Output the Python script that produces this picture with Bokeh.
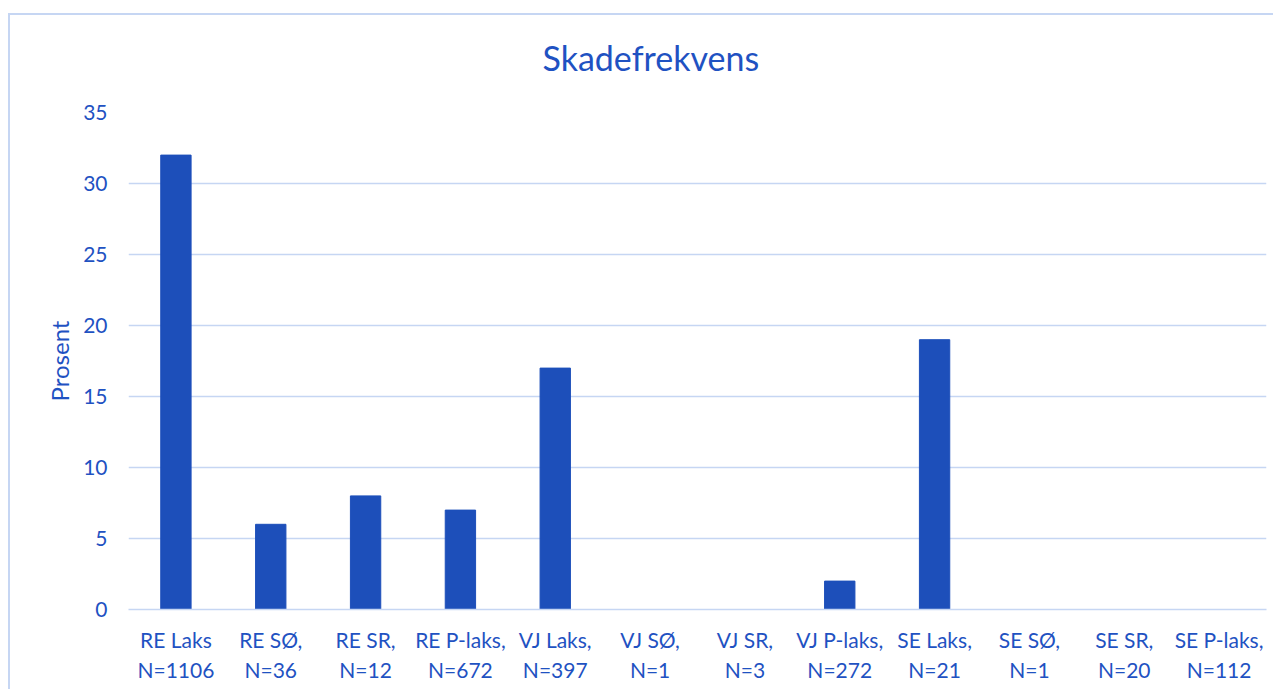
from bokeh.plotting import figure
from bokeh.models import Range1d, FixedTicker, Title
from bokeh.embed import file_html
from bokeh.resources import INLINE

categories = ["RE Laks\nN=1106", "RE SØ,\nN=36", "RE SR,\nN=12", "RE P-laks,\nN=672",
              "VJ Laks,\nN=397", "VJ SØ,\nN=1", "VJ SR,\nN=3", "VJ P-laks,\nN=272",
              "SE Laks,\nN=21", "SE SØ,\nN=1", "SE SR,\nN=20", "SE P-laks,\nN=112"]
values = [32, 6, 8, 7, 17, 0, 0, 2, 19, 0, 0, 0]
y_ticks = [0, 5, 10, 15, 20, 25, 30, 35]

TEXT = "#1F52C2"
BAR = "#1D4FBA"
GRID = "#C6D6F3"
FONT = "Lato"

p = figure(x_range=categories, y_range=Range1d(0, 35), width=1265, height=676,
           output_backend="svg", toolbar_location=None, tools="",
           min_border_left=118, min_border_right=9, min_border_top=97, min_border_bottom=82,
           outline_line_color=None)
p.margin = (13, 0, 0, 8)
p.styles = {"border-top": "2px solid " + GRID, "border-left": "2px solid " + GRID}

p.vbar(x=categories, top=values, width=0.32, color=BAR)

# spacer between title and frame (added first = nearest the frame; white on white)
spacer = Title(text=".", text_font_size="2px", standoff=32, text_color="#ffffff")
p.add_layout(spacer, "above")
t = Title(text="Skadefrekvens", align="left", offset=414, standoff=0,
          text_font=FONT, text_font_size="34px", text_font_style="normal", text_color=TEXT)
p.add_layout(t, "above")

p.yaxis.ticker = FixedTicker(ticks=y_ticks)
p.ygrid.grid_line_color = GRID
p.ygrid.grid_line_width = 1.5
p.xgrid.grid_line_color = None

for ax in (p.xaxis, p.yaxis):
    ax.major_tick_line_color = None
    ax.minor_tick_line_color = None
    ax.major_label_text_font = FONT
    ax.major_label_text_font_size = "21px"
    ax.major_label_text_color = TEXT

p.yaxis.axis_line_color = None
p.yaxis.major_label_standoff = 15
p.yaxis.axis_label = "Prosent"
p.yaxis.axis_label_text_font = FONT
p.yaxis.axis_label_text_font_size = "24px"
p.yaxis.axis_label_text_font_style = "normal"
p.yaxis.axis_label_text_color = TEXT
p.yaxis.axis_label_standoff = 6

p.xaxis.axis_line_color = GRID
p.xaxis.axis_line_width = 1.5
p.xaxis.major_label_standoff = 11
p.xaxis.major_label_text_line_height = 1.2

open("out.html", "w").write(file_html(p, INLINE))
